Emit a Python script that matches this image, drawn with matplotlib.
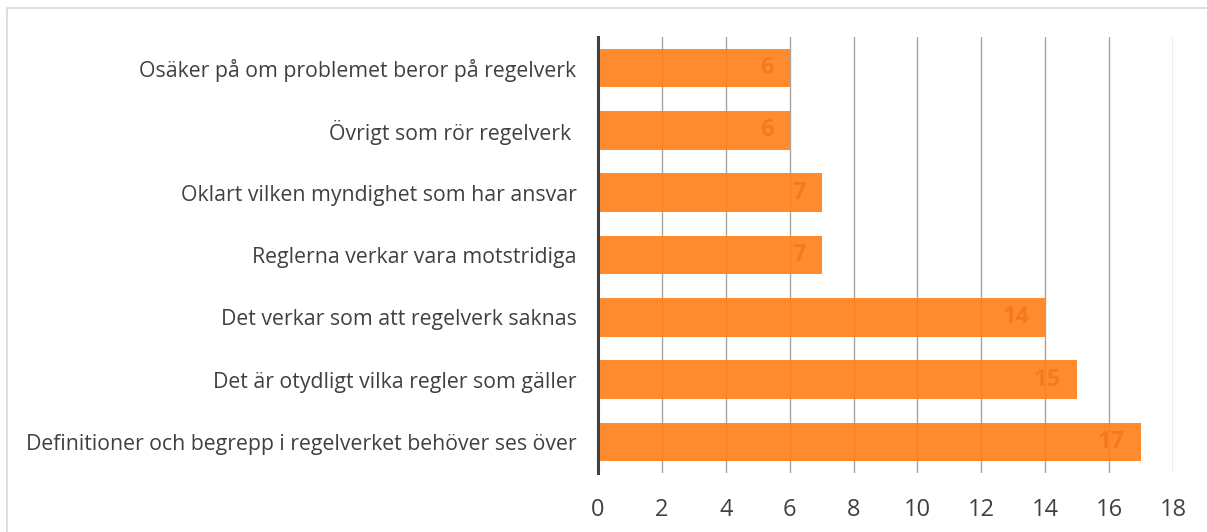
import matplotlib
matplotlib.use("Agg")
import matplotlib.pyplot as plt
from matplotlib.patches import Rectangle

categories = [
    "Definitioner och begrepp i regelverket behöver ses över",
    "Det är otydligt vilka regler som gäller",
    "Det verkar som att regelverk saknas",
    "Reglerna verkar vara motstridiga",
    "Oklart vilken myndighet som har ansvar",
    "Övrigt som rör regelverk ",
    "Osäker på om problemet beror på regelverk",
]
values = [17, 15, 14, 7, 7, 6, 6]
xticks = [0, 2, 4, 6, 8, 10, 12, 14, 16, 18]

plt.rcParams['font.family'] = ['Open Sans', 'DejaVu Sans']

W, H = 1207, 532
fig = plt.figure(figsize=(W / 100, H / 100), dpi=100)
ax = fig.add_axes([598 / W, 1 - 473 / H, (1173 - 598) / W, (473 - 37) / H])

ypos = list(range(len(categories)))
ax.set_axisbelow(True)
ax.xaxis.grid(True, color="#ABA39C", linewidth=1.0)
ax.barh(ypos, values, height=0.62, color="#FF7F17", alpha=0.9, zorder=2)

for y, v in zip(ypos, values):
    ax.annotate(str(v), xy=(v, y), xytext=(-11.5, 0), textcoords="offset points",
                ha="right", va="center", fontsize=17, fontweight="bold",
                color="#F57A1C", zorder=3)

ax.set_xlim(0, 18)
ax.set_ylim(-0.5, len(categories) - 0.5)
ax.set_xticks(xticks)
ax.set_xticklabels([str(t) for t in xticks], fontsize=17, color="#404040")
ax.set_yticks(ypos)
ax.set_yticklabels(categories, fontsize=15.3, color="#404040")
ax.tick_params(axis="x", length=0, pad=18)
ax.tick_params(axis="y", length=0, pad=15.5)

for s in ["top", "right", "bottom"]:
    ax.spines[s].set_visible(False)
ax.spines["left"].set_color("#404040")
ax.spines["left"].set_linewidth(2.2)
ax.spines["left"].set_zorder(4)

fig.patches.append(Rectangle((6.5 / W, -0.1), 1.2, 1.1 - 8 / H,
                             transform=fig.transFigure, fill=False,
                             edgecolor="#D9D9D9", linewidth=1.2))

fig.savefig("out.png", dpi=100)
